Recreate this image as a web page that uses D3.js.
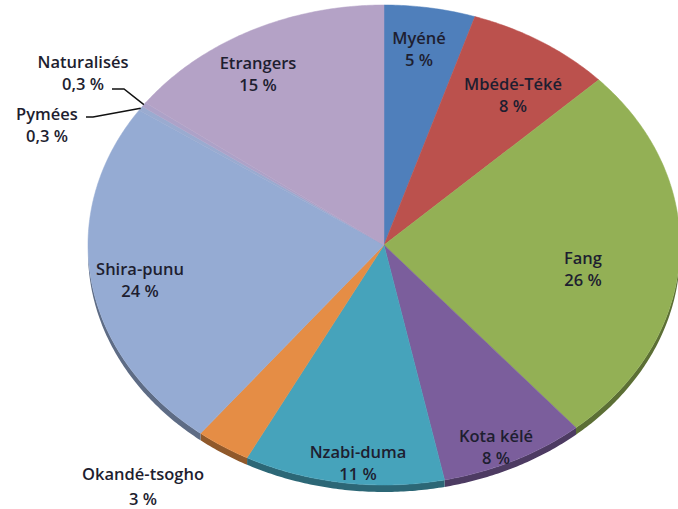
<!DOCTYPE html>
<html><head><meta charset="utf-8">
<script src="https://cdn.jsdelivr.net/npm/d3@7"></script>
<style>
html,body{margin:0;padding:0;background:#fff;}
svg{display:block;}
text{font-family:"Open Sans",sans-serif;font-weight:600;fill:#1e1e30;}
</style></head>
<body>
<script>
const categories = ["Myéné","Mbédé-Téké","Fang","Kota kélé","Nzabi-duma","Okandé-tsogho","Shira-punu","Pymées","Naturalisés","Etrangers"];
const values = [5, 8, 26, 8, 11, 3, 24, 0.3, 0.3, 15];
const valueLabels = ["5 %","8 %","26 %","8 %","11 %","3 %","24 %","0,3 %","0,3 %","15 %"];
const palette = ["#4f7fbb","#bb514d","#93b055","#7b5e9c","#46a3bb","#e58d45","#95abd3","#9aabd0","#ada2c8","#b4a2c6"];
// label anchor (name line) positions
const labelAt = [[419,38],[513,84],[583,258],[496,436],[358,452],[143,474],[140,269],[47,114],[83,62],[258,63]];

const W = 678, H = 509;
const cx = 384, cy = 245, rx = 296, ry = 240, depth = 7;

const svg = d3.select("body").append("svg").attr("width", W).attr("height", H);

const pie = d3.pie().sort(null).value(d => d)(values);
const pt = (a, dy = 0) => [cx + rx * Math.sin(a), cy - ry * Math.cos(a) + dy];

function arcPts(a0, a1, dy) {
  const n = Math.max(2, Math.ceil((a1 - a0) / 0.01));
  return d3.range(n + 1).map(i => pt(a0 + (a1 - a0) * i / n, dy));
}
const line = d3.line();

// side (depth) for front half
const side = svg.append("g");
pie.forEach((p, i) => {
  const a0 = Math.max(p.startAngle, Math.PI / 2), a1 = Math.min(p.endAngle, 3 * Math.PI / 2);
  if (a1 <= a0) return;
  const pts = arcPts(a0, a1, 0).concat(arcPts(a0, a1, depth).reverse());
  side.append("path").attr("d", line(pts) + "Z")
    .attr("fill", d3.color(palette[i]).darker(1.3));
});

// top faces
const faces = svg.append("g");
pie.forEach((p, i) => {
  const pts = [[cx, cy]].concat(arcPts(p.startAngle, p.endAngle, 0));
  faces.append("path").attr("d", line(pts) + "Z").attr("fill", palette[i])
    .attr("stroke", palette[i]).attr("stroke-width", 0.5);
});

// leader lines for tiny slices
const lead = svg.append("g").attr("fill", "none").attr("stroke", "#111").attr("stroke-width", 1.5);
const pPym = pt((pie[7].startAngle + pie[7].endAngle) / 2);
const pNat = pt((pie[8].startAngle + pie[8].endAngle) / 2);
lead.append("path").attr("d", line([[112, 89], [124, 89], pNat]));
lead.append("path").attr("d", line([[86, 117], [93, 117], pPym]));

// labels
const lab = svg.append("g").attr("text-anchor", "middle").style("font-size", "16.5px");
categories.forEach((c, i) => {
  const [x, y] = labelAt[i];
  const gap = i === 5 ? 25 : 22;
  lab.append("text").attr("x", x).attr("y", y + 6).text(c);
  lab.append("text").attr("x", x).attr("y", y + 6 + gap).text(valueLabels[i]);
});
</script>
</body></html>
